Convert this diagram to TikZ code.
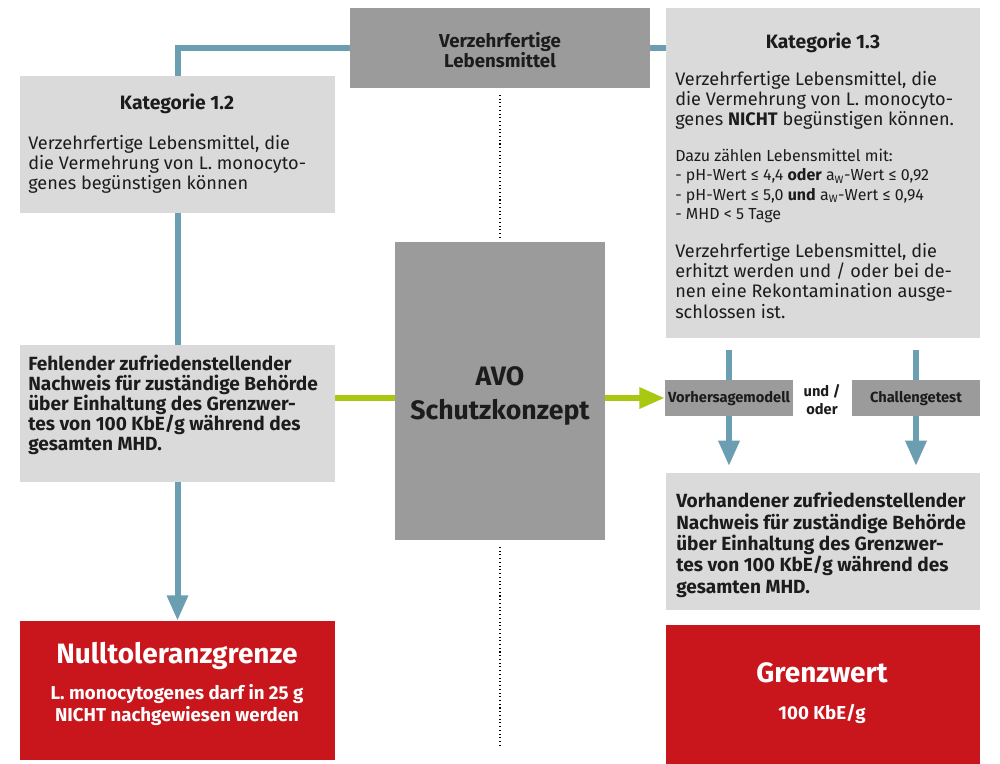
\documentclass[tikz,border=0pt]{standalone}
\usepackage{fontspec}
\setmainfont{Fira Sans}
\usetikzlibrary{arrows.meta,positioning,fit}
\definecolor{BoxGray}{RGB}{155,155,155}
\definecolor{PaleGray}{RGB}{218,218,218}
\definecolor{LinkBlue}{RGB}{108,158,178}
\definecolor{LimeGreen}{RGB}{168,200,18}
\definecolor{SignalRed}{RGB}{200,22,28}
\definecolor{InkBlack}{RGB}{28,28,28}

\begin{document}
\begin{tikzpicture}[x=0.75pt,y=-0.75pt,>=Latex,
    palebox/.style={fill=PaleGray,inner sep=0pt},
    darkbox/.style={fill=BoxGray,inner sep=0pt},
    redbox/.style={fill=SignalRed,inner sep=0pt},
    cattitle/.style={font=\bfseries\fontsize{14.5}{16}\selectfont,text=InkBlack},
    body/.style={anchor=north west,inner sep=0pt,align=left,text=InkBlack,font=\fontsize{13.6}{15.2}\selectfont},
    smallbody/.style={body,font=\fontsize{12}{14.4}\selectfont},
    boldbody/.style={body,font=\bfseries\fontsize{14.3}{15}\selectfont},
    tagtext/.style={font=\bfseries\fontsize{11}{12}\selectfont,text=InkBlack},
    redtitle/.style={font=\bfseries\fontsize{21}{23}\selectfont,text=white},
    redsub/.style={align=center,font=\bfseries\fontsize{14}{16.5}\selectfont,text=white},
    link/.style={LinkBlue,line width=4.5pt},
    cue/.style={LimeGreen,line width=4.5pt},
    bigtip/.style={-{Triangle[width=15pt,length=19pt]}}]
  \useasboundingbox (0,0) rectangle (1000,764);

  % boxes
  \node[darkbox,fit={(350,8)(650,88)}] (top) {};
  \node[palebox,fit={(20,76)(335,213)}] (kat12) {};
  \node[palebox,fit={(666,8)(980,338)}] (kat13) {};
  \node[palebox,fit={(20,345)(335,482)}] (fehl) {};
  \node[darkbox,fit={(395,242)(605,540)}] (avo) {};
  \node[darkbox,fit={(665,380)(793,416)}] (vhm) {};
  \node[darkbox,fit={(852,380)(980,416)}] (chall) {};
  \node[palebox,fit={(666,473)(980,610)}] (vorh) {};
  \node[redbox,fit={(20,621)(335,760)}] (null) {};
  \node[redbox,fit={(666,625)(980,764)}] (grenz) {};

  % texts
  \node[align=center,text=InkBlack,font=\bfseries\fontsize{14}{14.5}\selectfont] (toptxt) at (500,50) {Verzehrfertige\\Lebensmittel};
  \node[align=center,text=InkBlack,font=\bfseries\fontsize{20}{25}\selectfont] (avotxt) at (500,396) {AVO\\Schutzkonzept};
  \node[tagtext] (vhmtxt) at (729,399) {Vorhersagemodell};
  \node[tagtext] (challtxt) at (916,399) {Challengetest};
  \node[tagtext,align=center,font=\bfseries\fontsize{11}{13.5}\selectfont] (undoder) at (822,400) {und /\\oder};
  \node[cattitle] (kat12head) at (177,104) {Kategorie 1.2};
  \node[body] (kat12txt) at (28,135) {Verzehrfertige Lebensmittel, die\\die Vermehrung von L. monocyto-\\genes begünstigen können};
  \node[cattitle] (kat13head) at (823,43) {Kategorie 1.3};
  \node[body] (kat13txt) at (675,71) {Verzehrfertige Lebensmittel, die\\die Vermehrung von L. monocyto-\\genes \textbf{NICHT} begünstigen können.};
  \node[smallbody] (kat13list) at (675,149) {Dazu zählen Lebensmittel mit:\\- pH-Wert ≤ 4,4 \textbf{oder} a\textsubscript{W}-Wert ≤ 0,92\\- pH-Wert ≤ 5,0 \textbf{und} a\textsubscript{W}-Wert ≤ 0,94\\- MHD < 5 Tage};
  \node[body] (kat13more) at (675,243) {Verzehrfertige Lebensmittel, die\\erhitzt werden und / oder bei de-\\nen eine Rekontamination ausge-\\schlossen ist.};
  \node[boldbody] (fehltxt) at (28,355) {Fehlender zufriedenstellender\\Nachweis für zuständige Behörde\\über Einhaltung des Grenzwer-\\tes von 100 KbE/g während des\\gesamten MHD.};
  \node[boldbody,font=\bfseries\fontsize{14.3}{16}\selectfont] (vorhtxt) at (676,492) {Vorhandener zufriedenstellender\\Nachweis für zuständige Behörde\\über Einhaltung des Grenzwer-\\tes von 100 KbE/g während des\\gesamten MHD.};
  \node[redtitle] (nullhead) at (177,656) {Nulltoleranzgrenze};
  \node[redsub] (nulltxt) at (177,705) {L. monocytogenes darf in 25 g\\NICHT nachgewiesen werden};
  \node[redtitle] (grenzhead) at (822,673) {Grenzwert};
  \node[redsub] (grenztxt) at (822,714) {100 KbE/g};

  % connectors
  \draw[link] (top.west) -| (kat12.north);
  \draw[link] (top.east) -- (top.east -| kat13.west);
  \draw[link] (kat12.south) -- (fehl.north);
  \draw[link,bigtip] (fehl.south) -- (null.north);
  \draw[cue] (fehl.east |- vhm.west) -- (avo.west |- vhm.west);
  \draw[cue,bigtip] (avo.east |- vhm.west) -- (vhm.west);
  \draw[link,shorten <=9pt] (kat13.south -| vhm.north) -- (vhm.north);
  \draw[link,shorten <=9pt] (kat13.south -| chall.north) -- (chall.north);
  \draw[link,bigtip,shorten >=5pt] (vhm.south) -- (vhm.south |- vorh.north);
  \draw[link,bigtip,shorten >=5pt] (chall.south) -- (chall.south |- vorh.north);
  \coordinate (dotend) at (497,745);
  \draw[dotted,line width=0.8pt,shorten <=5pt,shorten >=3pt] (top.south) -- (avo.north);
  \draw[dotted,line width=0.8pt,shorten <=5pt] (avo.south) -- (avo.south |- dotend);
\end{tikzpicture}
\end{document}
